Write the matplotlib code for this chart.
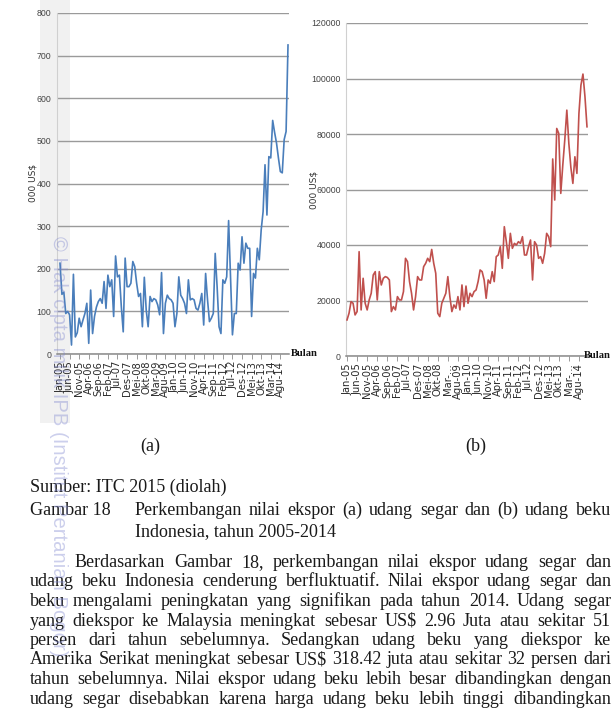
import matplotlib
matplotlib.use("Agg")
import matplotlib.pyplot as plt
from matplotlib.patches import Rectangle

# ---------------- data ----------------
month_labels_a = ["Jan-05", "Jun-05", "Nov-05", "Apr-06", "Sep-06", "Feb-07", "Jul-07", "Des-07",
                  "Mei-08", "Okt-08", "Mar-09", "Agu-09", "Jan-10", "Jun-10", "Nov-10", "Apr-11",
                  "Sep-11", "Feb-12", "Jul-12", "Des-12", "Mei-13", "Okt-13", "Mar-14", "Agu-14"]
month_labels_b = ["Jan-05", "Jun-05", "Nov-05", "Apr-06", "Sep-06", "Feb-07", "Jul-07", "Des-07",
                  "Mei-08", "Okt-08", "Mar-\u2026", "Agu-09", "Jan-10", "Jun-10", "Nov-10", "Apr-11",
                  "Sep-11", "Feb-12", "Jul-12", "Des-12", "Mei-13", "Okt-13", "Mar-\u2026", "Agu-14"]

# (a) udang segar, 000 US$, monthly Jan-2005 .. Dec-2014
segar = [213, 140, 145, 95, 100, 92, 21, 187, 40, 50,
         84, 64, 80, 95, 119, 25, 150, 48, 88, 110,
         123, 130, 119, 170, 107, 185, 158, 174, 88, 230,
         181, 185, 111, 52, 225, 158, 158, 166, 217, 205,
         166, 135, 142, 64, 180, 103, 64, 135, 123, 130,
         127, 115, 92, 191, 48, 119, 138, 130, 127, 119,
         64, 95, 181, 138, 130, 119, 95, 174, 127, 130,
         127, 107, 103, 119, 142, 68, 189, 127, 76, 84,
         95, 236, 158, 64, 48, 174, 166, 181, 313, 181,
         45, 95, 95, 213, 197, 275, 213, 260, 248, 248,
         88, 189, 178, 248, 221, 291, 334, 444, 326, 463,
         460, 548, 520, 495, 460, 428, 425, 503, 522, 725]

# (b) udang beku, 000 US$
beku = [13000, 15400, 19600, 19000, 14800, 16000, 37600, 16600, 28000, 19000,
        16600, 20200, 22600, 29200, 30400, 20200, 30400, 25600, 28000, 28600,
        28300, 27400, 16000, 17800, 16600, 21400, 20200, 20200, 23200, 35200,
        34000, 26800, 22600, 16600, 21400, 28600, 27400, 27400, 32200, 33400,
        35200, 34000, 38400, 33400, 29800, 15400, 14200, 19000, 20800, 22600,
        28600, 21400, 16000, 18400, 17200, 21400, 16600, 25600, 17800, 25200,
        19000, 22600, 21400, 23200, 23800, 26800, 31000, 30400, 27400, 20800,
        27400, 26200, 30400, 26800, 35800, 36400, 39400, 31600, 46600, 41200,
        35200, 44200, 38800, 40600, 40000, 41200, 40600, 43000, 36400, 36400,
        39400, 41800, 27400, 41200, 40000, 35200, 35800, 33400, 37000, 44200,
        43000, 39400, 71000, 56200, 82000, 80200, 58600, 68800, 78000, 88600,
        76600, 68000, 62200, 71800, 65800, 87400, 97600, 101600, 93400, 82600]

yticks_a = [0, 100, 200, 300, 400, 500, 600, 700, 800]
yticks_b = [0, 20000, 40000, 60000, 80000, 100000, 120000]

caption_source = "Sumber: ITC 2015 (diolah)"
caption_num = "Gambar 18"
caption_l1 = "Perkembangan nilai ekspor (a) udang segar dan (b) udang beku"
caption_l2 = "Indonesia, tahun 2005-2014"
para_lines = [
    "Berdasarkan Gambar 18, perkembangan nilai ekspor udang segar dan",
    "udang beku Indonesia cenderung berfluktuatif. Nilai ekspor udang segar dan",
    "beku mengalami peningkatan yang signifikan pada tahun 2014. Udang segar",
    "yang diekspor ke Malaysia meningkat sebesar US$ 2.96 Juta atau sekitar 51",
    "persen dari tahun sebelumnya. Sedangkan udang beku yang diekspor ke",
    "Amerika Serikat meningkat sebesar US$ 318.42 juta atau sekitar 32 persen dari",
    "tahun sebelumnya. Nilai ekspor udang beku lebih besar dibandingkan dengan",
    "udang segar disebabkan karena harga udang beku lebih tinggi dibandingkan",
]
watermark = "\u00a9 Hak cipta milik IPB (Institut Pertanian Bogor)"

# ---------------- figure ----------------
W, H = 612, 711
fig = plt.figure(figsize=(W / 100, H / 100), dpi=100)
fig.patch.set_facecolor("white")


def fx(x):
    return x / W


def fy(y):
    return 1 - y / H


def px_axes(left, right, top, bottom):
    ax = fig.add_axes([fx(left), fy(bottom), (right - left) / W, (bottom - top) / H])
    ax.set_zorder(2)
    return ax


# light grey scan band behind chart (a)
band = Rectangle((fx(40), fy(423)), 30 / W, 423 / H, transform=fig.transFigure,
                 facecolor="#f1f1f1", edgecolor="none", zorder=0)
fig.patches.append(band)

tick_font = dict(family="DejaVu Sans", size=7.2, color="#2a2a2a")
num_font = dict(family="Liberation Sans", size=6.3, color="#444444")
grid_col = "#9a9a9a"


def style_axes(ax, y, color, yt, ylim, xlim, labels, ypad):
    ax.set_facecolor("none")
    ax.plot(range(len(y)), y, color=color, lw=1.2, solid_joinstyle="round", zorder=3)
    ax.set_xlim(*xlim)
    ax.set_ylim(*ylim)
    ax.set_yticks(yt)
    ax.set_yticklabels([str(v) for v in yt], **num_font)
    ax.set_xticks(range(0, 120, 5))
    ax.set_xticklabels(labels, rotation=90, **tick_font)
    ax.grid(axis="y", color=grid_col, lw=1.0)
    ax.set_axisbelow(True)
    for s in ["top", "right"]:
        ax.spines[s].set_visible(False)
    ax.spines["left"].set_color("#d0d0d0")
    ax.spines["left"].set_linewidth(0.8)
    ax.spines["bottom"].set_color("#8a8a8a")
    ax.spines["bottom"].set_linewidth(1.1)
    ax.tick_params(axis="y", length=0, pad=ypad)
    ax.tick_params(axis="x", length=3.5, width=0.7, color="#9a9a9a", pad=1.5)


ax_a = px_axes(57, 289, 13, 354)
style_axes(ax_a, segar, "#4a7ebb", yticks_a, (0, 800), (-1.57, 119.52), month_labels_a, 4.3)
ax_b = px_axes(346, 588, 23, 356)
style_axes(ax_b, beku, "#c0504d", yticks_b, (0, 120000), (-0.5, 119.5), month_labels_b, 3.6)

# axis titles
ylab_font = dict(family="DejaVu Sans", size=6.5, color="#333333", rotation=90,
                 ha="center", va="center", zorder=3)
fig.text(fx(33), fy(183), "000 US$", **ylab_font)
fig.text(fx(314), fy(190), "000 US$", **ylab_font)
bulan_font = dict(family="Liberation Serif", size=7.6, weight="bold", color="#111111",
                  ha="left", va="center", zorder=3)
fig.text(fx(291), fy(354), "Bulan", **bulan_font)
fig.text(fx(584), fy(356), "Bulan", **bulan_font)

# ---------------- document text ----------------
serif = dict(family="Liberation Serif", size=13, color="#1a1a1a")
fig.text(fx(150), fy(451), "(a)", ha="center", va="baseline", **serif)
fig.text(fx(476), fy(451), "(b)", ha="center", va="baseline", **serif)

renderer = fig.canvas.get_renderer()


def put_justified(text, x0, x1, ybase):
    words = text.split(" ")
    objs = [fig.text(fx(x0), fy(ybase), w, ha="left", va="baseline", **serif) for w in words]
    widths = [o.get_window_extent(renderer).width for o in objs]
    gap = (x1 - x0 - sum(widths)) / (len(words) - 1)
    x = x0
    for o, w in zip(objs, widths):
        o.set_x(fx(x))
        x += w + gap


fig.text(fx(30), fy(492), caption_source, ha="left", va="baseline", **serif)
fig.text(fx(30), fy(515), caption_num, ha="left", va="baseline", **serif)
put_justified(caption_l1, 135, 611, 515)
fig.text(fx(135), fy(536), caption_l2, ha="left", va="baseline", **serif)

y0 = 567
step = 19.5
for i, line in enumerate(para_lines):
    put_justified(line, 75 if i == 0 else 30, 611, y0 + i * step)

# watermark
fig.text(fx(58), fy(236), watermark, rotation=-90, ha="center", va="top",
         family="Liberation Sans", size=14.6, color="#8088d0", alpha=0.4, zorder=10)

fig.savefig("out.png", dpi=100, facecolor="white")
